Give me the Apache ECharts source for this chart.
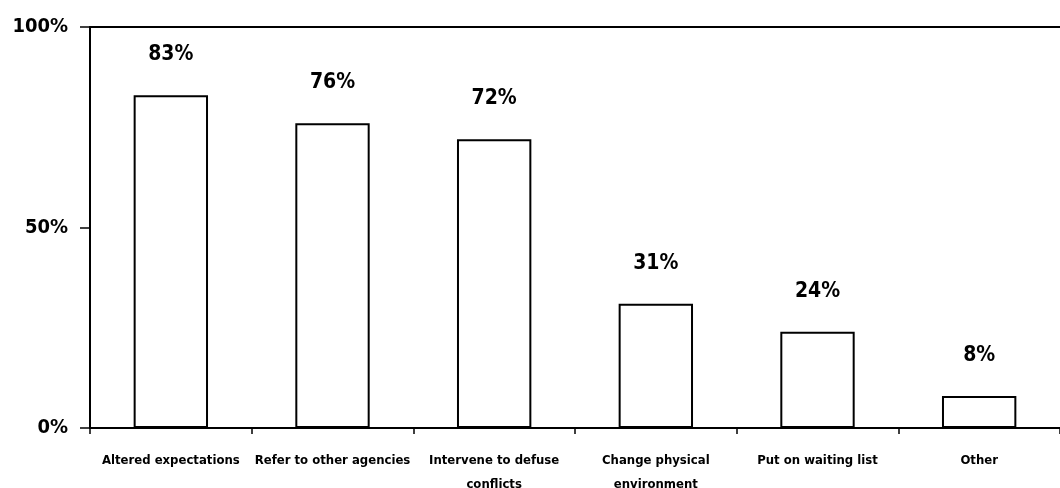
<!DOCTYPE html>
<html>
<head>
<meta charset="utf-8">
<script src="https://cdn.jsdelivr.net/npm/echarts@6/dist/echarts.min.js"></script>
<style>
  html, body { margin: 0; padding: 0; background: #fff; }
  #main { width: 1060px; height: 488px; }
</style>
</head>
<body>
<div id="main"></div>
<script>
// categories and percentages
var categories = ['Altered expectations', 'Refer to other agencies', 'Intervene to defuse\nconflicts',
  'Change physical\nenvironment', 'Put on waiting list', 'Other']
var values = [83, 76, 72, 31, 24, 8]
var yTicks = [0, 50, 100]

var font = '"DejaVu Sans Condensed", sans-serif'
var chart = echarts.init(document.getElementById('main'), null, { renderer: 'canvas' })

var option = {
  backgroundColor: '#fff',
  animation: false,
  grid: { left: 90, right: 0, top: 27, bottom: 60, containLabel: false, outerBoundsMode: 'none' },
  xAxis: [{
    type: 'category',
    data: categories,
    axisLine: { lineStyle: { color: '#000', width: 2 } },
    axisTick: { show: true, length: 6, lineStyle: { color: '#000', width: 1.5 } },
    axisLabel: {
      color: '#000', fontFamily: font, fontWeight: 'bold', fontSize: 13,
      margin: 21, lineHeight: 24, interval: 0
    }
  }, {
    // the closing line along 100%
    type: 'category',
    position: 'top',
    data: categories,
    axisLine: { lineStyle: { color: '#000', width: 2 } },
    axisTick: { show: false },
    axisLabel: { show: false }
  }],
  yAxis: {
    type: 'value',
    min: yTicks[0],
    max: yTicks[yTicks.length - 1],
    interval: 50,
    axisLine: { show: true, lineStyle: { color: '#000', width: 2 } },
    axisTick: { show: true, inside: false, length: 10, lineStyle: { color: '#000', width: 1.5 } },
    splitLine: { show: false },
    axisLabel: {
      color: '#000', fontFamily: font, fontWeight: 'bold', fontSize: 20, margin: 22,
      formatter: '{value}%'
    }
  },
  series: [{
    type: 'bar',
    data: values,
    barWidth: '46%',
    itemStyle: { color: '#fff', borderColor: '#000', borderWidth: 2 },
    label: {
      show: true, position: 'top', distance: 30,
      color: '#000', fontFamily: font, fontWeight: 'bold', fontSize: 21,
      formatter: '{c}%'
    }
  }]
}
chart.setOption(option)
</script>
</body>
</html>
